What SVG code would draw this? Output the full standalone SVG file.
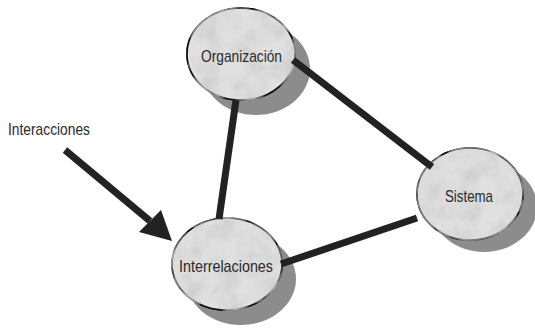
<svg xmlns="http://www.w3.org/2000/svg" width="535" height="328" viewBox="0 0 535 328">
<style>
.shadow{fill:#8c8c8c;}
.node{fill:#e0e0e0;stroke:#111;stroke-width:1.6;filter:url(#mottle);}
.lbl{font-family:"Liberation Sans",Arial,sans-serif;font-size:17px;fill:#2a2a2a;}
.conn{stroke:#222;stroke-width:7;stroke-linecap:butt;fill:none;}
</style>
<defs>
<filter id="mottle" x="-5%" y="-5%" width="110%" height="110%">
<feTurbulence type="fractalNoise" baseFrequency="0.05" numOctaves="3" seed="4" result="n"/>
<feColorMatrix in="n" type="matrix" values="0 0 0 0 0.6  0 0 0 0 0.6  0 0 0 0 0.6  0 0 0 -1.6 1.05" result="spots"/>
<feComposite in="spots" in2="SourceGraphic" operator="atop" result="tex"/>
<feMerge><feMergeNode in="SourceGraphic"/><feMergeNode in="tex"/></feMerge>
</filter>
</defs>
<rect width="535" height="328" fill="#fff"/>
<g id="node-organizacion">
<ellipse class="shadow" cx="256" cy="69" rx="54" ry="46"/>
<ellipse class="node" cx="241" cy="54" rx="54" ry="46"/>
<text class="lbl" x="201" y="62" textLength="81" lengthAdjust="spacingAndGlyphs">Organización</text>
</g>
<g id="node-sistema">
<ellipse class="shadow" cx="484" cy="207" rx="53" ry="45"/>
<ellipse class="node" cx="470" cy="194" rx="53" ry="46"/>
<text class="lbl" x="445" y="202" textLength="48" lengthAdjust="spacingAndGlyphs">Sistema</text>
</g>
<g id="node-interrelaciones">
<ellipse class="shadow" cx="241" cy="279" rx="55" ry="46"/>
<ellipse class="node" cx="227" cy="264" rx="55" ry="46"/>
<text class="lbl" x="179" y="272" textLength="94" lengthAdjust="spacingAndGlyphs">Interrelaciones</text>
</g>
<g id="label-interacciones">
<text class="lbl" x="8" y="135" textLength="82" lengthAdjust="spacingAndGlyphs">Interacciones</text>
</g>
<g id="connectors">
<line class="conn" x1="293" y1="60" x2="432" y2="167"/>
<line class="conn" x1="236" y1="100" x2="219" y2="219"/>
<line class="conn" x1="281" y1="264" x2="417" y2="218"/>
<line class="conn" x1="65" y1="150" x2="150" y2="221"/>
<polygon points="172,241 139,232 161,210" fill="#222"/>
</g>
</svg>
